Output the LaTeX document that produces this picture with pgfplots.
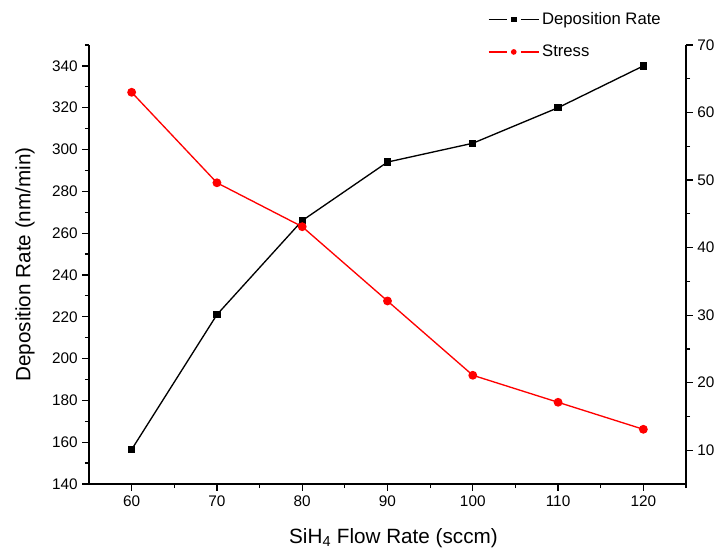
\documentclass[border=0pt]{standalone}
\usepackage{pgfplots}
\pgfplotsset{compat=1.18}
\usepackage{fontspec}
\setmainfont{Liberation Sans}

\pgfplotstableread{
x dep
60 156.5
70 221
80 266
90 294
100 303
110 320
120 340
}\deptable
\pgfplotstableread{
x stress
60 63
70 49.6
80 43.1
90 32.1
100 21.1
110 17.1
120 13.1
}\stresstable

\pgfplotsset{
  common/.style={
    at={(0,0)}, anchor=south west,
    scale only axis, width=447.75pt, height=329.25pt,
    xmin=55, xmax=125,
    axis line style={line width=0.9pt, -},
    tick align=outside, major tick length=5pt, minor tick length=3pt,
    tick style={black, line width=0.9pt},
    ticklabel style={font=\fontsize{11.5}{13}\selectfont},
    /pgf/number format/assume math mode=true,
    label style={font=\fontsize{15.5}{17}\selectfont},
    legend image code/.code={%
      \draw[mark=none] (0cm,0cm) -- (0.47cm,0cm);
      \draw[mark=none] (0.85cm,0cm) -- (1.32cm,0cm);
      \draw[mark size=1.6pt] plot coordinates {(0.66cm,0cm)};},
  }
}

\begin{document}
\begin{tikzpicture}
\path[use as bounding box] (-66.75pt,-49.5pt) rectangle (471pt,363pt);
\begin{axis}[common,
  ymin=140, ymax=350,
  axis x line*=bottom, axis y line*=left,
  xtick={60,70,...,120}, minor xtick={65,75,...,125},
  ytick={140,160,...,340}, minor ytick={150,170,...,350},
  xlabel={SiH\textsubscript{4} Flow Rate (sccm)},
  ylabel={Deposition Rate (nm/min)},
  xlabel style={at={(axis description cs:0.51,-0.123)}, anchor=center},
  ylabel style={at={(axis description cs:-0.107,0.5)}, anchor=center},
]
\addplot[black, line width=1pt, mark=square*, mark size=2.2pt] table[x=x,y=dep] {\deptable};
\end{axis}
\begin{axis}[common,
  ymin=5, ymax=70,
  axis y line*=right, axis x line=none,
  ytick={10,20,...,70}, minor ytick={15,25,...,65},
  legend style={at={(axis description cs:0.668,1.081)}, anchor=north west, draw=none, fill=none,
    font=\fontsize{12.5}{14}\selectfont, row sep=10pt, inner sep=0pt},
  legend cell align=left,
]
\addlegendimage{black, line width=1pt, mark=square*, mark size=2.2pt}
\addlegendentry{Deposition Rate}
\addplot[red, line width=1pt, mark=*, mark size=2.8pt] table[x=x,y=stress] {\stresstable};
\addlegendentry{Stress}
\end{axis}
\end{tikzpicture}
\end{document}
